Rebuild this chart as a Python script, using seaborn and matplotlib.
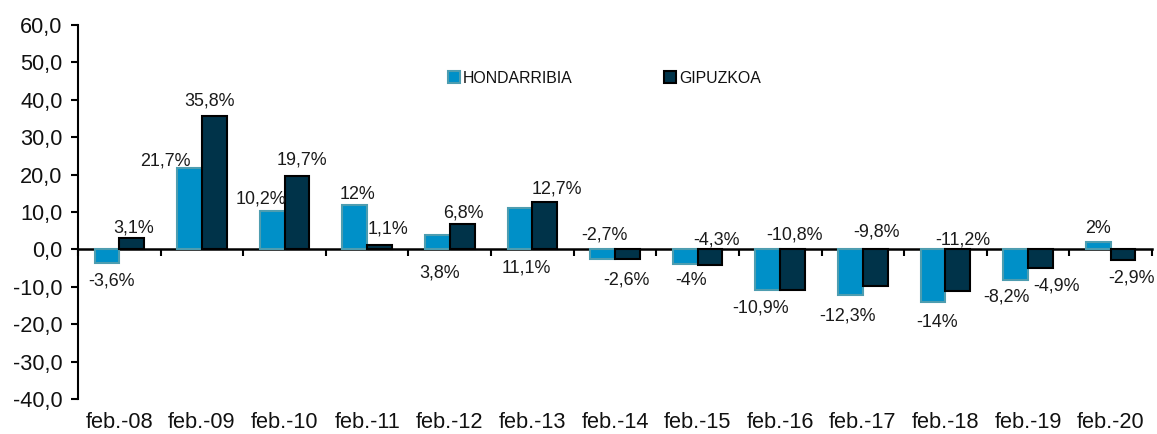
import numpy as np
import pandas as pd
import matplotlib
matplotlib.use("Agg")
import matplotlib.pyplot as plt
import seaborn as sns
from matplotlib.ticker import FuncFormatter
from matplotlib.patches import Patch

# ---- data ----
categories = ["feb.-08", "feb.-09", "feb.-10", "feb.-11", "feb.-12", "feb.-13", "feb.-14",
              "feb.-15", "feb.-16", "feb.-17", "feb.-18", "feb.-19", "feb.-20"]
hondarribia = [-3.6, 21.7, 10.2, 12, 3.8, 11.1, -2.7, -4, -10.9, -12.3, -14, -8.2, 2]
gipuzkoa = [3.1, 35.8, 19.7, 1.1, 6.8, 12.7, -2.6, -4.3, -10.8, -9.8, -11.2, -4.9, -2.9]
series_names = ["HONDARRIBIA", "GIPUZKOA"]
y_ticks = [-40, -30, -20, -10, 0, 10, 20, 30, 40, 50, 60]

# ---- label placement offsets (pixels, relative to bar end; +dy = down) ----
h_label_off = [(5, 18.4), (-24, -7.7), (-11.5, -12.4), (2.8, -9.6), (2.5, 37.6), (6.5, 60),
               (1.7, -24.3), (6, 16.3), (-7, 18), (-2.7, 21), (3.5, 20.7), (-9.3, 17.4), (0, -13.3)]
g_label_off = [(2, -9.6), (-4.8, -14.3), (4.7, -16), (8, -16.5), (1, -11.3), (12, -12.5),
               (-1, 20.7), (6, -25), (1.7, -54.3), (1.4, -54), (4.7, -51.4), (16.3, 18.3), (8, 18)]

h_fill, h_edge = "#0090c8", "#4e9db0"
g_fill, g_edge = "#003349", "#000000"

df = pd.DataFrame({
    "cat": categories * 2,
    "val": hondarribia + gipuzkoa,
    "serie": [series_names[0]] * len(categories) + [series_names[1]] * len(categories),
})

sns.set_style("white")
plt.rcParams["font.family"] = ["Liberation Sans", "DejaVu Sans"]

fig = plt.figure(figsize=(11.57, 4.34), dpi=100)
ax = fig.add_axes([78 / 1157, 1 - 399 / 434, 1074 / 1157, 374 / 434])

sns.barplot(data=df, x="cat", y="val", hue="serie", order=categories,
            hue_order=series_names, palette=[h_fill, g_fill], saturation=1,
            width=0.6, gap=0, ax=ax, legend=False)

edges = [h_edge, g_edge]
for cont, ec in zip(ax.containers, edges):
    for p in cont:
        p.set_edgecolor(ec)
        p.set_linewidth(1.5)

ax.set_xlim(-0.5, len(categories) - 0.5)
ax.set_ylim(-40, 60)
ax.set_yticks(y_ticks)
ax.yaxis.set_major_formatter(FuncFormatter(lambda v, _: f"{v:.1f}".replace(".", ",")))
ax.set_xlabel("")
ax.set_ylabel("")

for s in ["top", "right", "bottom"]:
    ax.spines[s].set_visible(False)
ax.spines["left"].set_color("black")
ax.spines["left"].set_linewidth(1.5)

ax.tick_params(axis="y", which="major", direction="out", length=5, width=1.5, color="black",
               pad=6, labelsize=15.7, left=True, labelcolor="#111111")
ax.tick_params(axis="x", which="major", length=0, pad=9, labelsize=15.7, labelcolor="#111111")

# zero line with category boundary ticks
zero_frac = (0 - (-40)) / (60 - (-40))
sec = ax.secondary_xaxis(zero_frac)
sec.set_xticks(np.arange(-0.5, len(categories), 1.0))
sec.set_xticklabels([])
sec.spines["bottom"].set_linewidth(1.8)
sec.spines["bottom"].set_color("black")
sec.tick_params(axis="x", direction="out", length=5, width=1.5, color="black")


def fmt(v):
    if float(v).is_integer():
        return f"{int(v)}%"
    return f"{v:.1f}".replace(".", ",") + "%"


px2pt = 72 / 100
for cont, vals, offs in zip(ax.containers, [hondarribia, gipuzkoa], [h_label_off, g_label_off]):
    for p, v, (dx, dy) in zip(cont, vals, offs):
        xc = p.get_x() + p.get_width() / 2
        ax.annotate(fmt(v), xy=(xc, v), xytext=(dx * px2pt, -dy * px2pt),
                    textcoords="offset points", ha="center", va="center",
                    fontsize=12.9, color="#1a1a1a")

handles = [Patch(facecolor=h_fill, edgecolor=h_edge, linewidth=1.5),
           Patch(facecolor=g_fill, edgecolor=g_edge, linewidth=1.5)]
leg = ax.legend(handles, series_names, loc="center", bbox_to_anchor=(0.49, 0.858),
                ncol=2, frameon=False, fontsize=11.4, handlelength=0.75, handleheight=0.75,
                handletextpad=0.2, columnspacing=5.75)
for t in leg.get_texts():
    t.set_color("#111111")

fig.savefig("out.png", dpi=100)
